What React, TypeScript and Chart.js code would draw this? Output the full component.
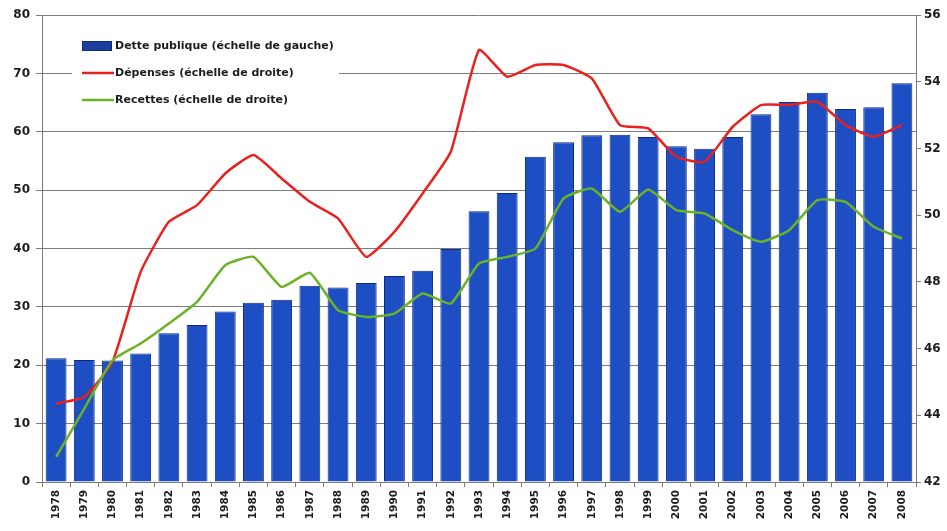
import React, { useEffect, useRef } from "react";
import { Chart, registerables } from "chart.js";

Chart.register(...registerables);

const years = [
  "1978", "1979", "1980", "1981", "1982", "1983", "1984", "1985", "1986", "1987",
  "1988", "1989", "1990", "1991", "1992", "1993", "1994", "1995", "1996", "1997",
  "1998", "1999", "2000", "2001", "2002", "2003", "2004", "2005", "2006", "2007", "2008",
];

const detteValues = [
  21.2, 20.9, 20.8, 22.0, 25.5, 26.9, 29.2, 30.7, 31.2, 33.6,
  33.3, 34.1, 35.3, 36.2, 39.9, 46.4, 49.5, 55.7, 58.2, 59.4,
  59.5, 59.1, 57.5, 57.1, 59.1, 63.0, 65.1, 66.7, 63.9, 64.2, 68.3,
];

const depensesValues = [
  44.35, 44.55, 45.6, 48.3, 49.8, 50.3, 51.25, 51.8, 51.1, 50.4,
  49.9, 48.75, 49.5, 50.65, 51.9, 54.95, 54.15, 54.5, 54.5, 54.1,
  52.7, 52.6, 51.75, 51.6, 52.65, 53.3, 53.3, 53.4, 52.7, 52.35, 52.7,
];

const recettesValues = [
  42.75, 44.2, 45.65, 46.15, 46.75, 47.4, 48.5, 48.75, 47.85, 48.27,
  47.15, 46.95, 47.05, 47.65, 47.35, 48.55, 48.75, 49.0, 50.5, 50.8,
  50.1, 50.77, 50.15, 50.05, 49.55, 49.2, 49.55, 50.45, 50.4, 49.65, 49.3,
];

const seriesLabels = [
  "Dette publique (échelle de gauche)",
  "Dépenses (échelle de droite)",
  "Recettes (échelle de droite)",
];

const BAR_FILL = "#1d4ec4";
const BAR_BORDER = "#0c2a80";
const RED = "#e8211f";
const GREEN = "#6cb226";
const GRID = "#7c7c7c";
const TEXT = "#1c1c1c";

const legendPlugin = {
  id: "insideLegend",
  afterDraw(chart: any) {
    const ctx = chart.ctx as CanvasRenderingContext2D;
    const ds = chart.data.datasets;
    ctx.save();
    ctx.fillStyle = "#ffffff";
    ctx.fillRect(72, 27, 267, 90);
    ctx.font = "bold 11px 'DejaVu Sans', sans-serif";
    ctx.textBaseline = "middle";
    const rows = [46, 73, 100];
    ds.forEach((d: any, i: number) => {
      const y = rows[i];
      if (d.type === "bar") {
        ctx.fillStyle = "#1c3f9c";
        ctx.fillRect(82, y - 5, 30, 10);
        ctx.strokeStyle = BAR_BORDER;
        ctx.lineWidth = 1;
        ctx.strokeRect(82.5, y - 4.5, 29, 9);
      } else {
        ctx.strokeStyle = d.borderColor;
        ctx.lineWidth = 2.5;
        ctx.beginPath();
        ctx.moveTo(82, y);
        ctx.lineTo(114, y);
        ctx.stroke();
      }
      ctx.fillStyle = TEXT;
      ctx.fillText(d.label, 115, y + 0.5);
    });
    ctx.restore();
  },
};

export default function App() {
  const canvasRef = useRef<HTMLCanvasElement | null>(null);

  useEffect(() => {
    document.body.style.margin = "0";
    const canvas = canvasRef.current;
    if (!canvas) return;
    const chart = new Chart(canvas, {
      type: "bar",
      data: {
        labels: years,
        datasets: [
          {
            type: "bar",
            label: seriesLabels[0],
            data: detteValues,
            backgroundColor: BAR_FILL,
            borderColor: BAR_BORDER,
            borderWidth: 1,
            yAxisID: "y",
            barPercentage: 0.74,
            categoryPercentage: 1,
            order: 2,
          } as any,
          {
            type: "line",
            label: seriesLabels[1],
            data: depensesValues,
            borderColor: RED,
            backgroundColor: RED,
            borderWidth: 2.5,
            pointRadius: 0,
            tension: 0.15,
            yAxisID: "y1",
            order: 1,
          } as any,
          {
            type: "line",
            label: seriesLabels[2],
            data: recettesValues,
            borderColor: GREEN,
            backgroundColor: GREEN,
            borderWidth: 2.5,
            pointRadius: 0,
            tension: 0.15,
            yAxisID: "y1",
            order: 0,
          } as any,
        ],
      },
      options: {
        animation: false,
        responsive: true,
        maintainAspectRatio: false,
        layout: { padding: { top: 15, right: 0, bottom: 0, left: 0 } },
        plugins: {
          legend: { display: false },
          tooltip: { enabled: false },
        },
        scales: {
          x: {
            grid: {
              display: true,
              drawOnChartArea: false,
              drawTicks: true,
              tickLength: 5,
              color: GRID,
              offset: true,
            },
            border: { color: GRID, width: 1 },
            ticks: {
              minRotation: 90,
              maxRotation: 90,
              autoSkip: false,
              color: TEXT,
              padding: 3,
              font: { family: "'DejaVu Sans'", weight: "bold", size: 10.5 },
            },
            afterFit(scale: any) {
              scale.height = 49;
            },
          },
          y: {
            position: "left",
            min: 0,
            max: 80,
            ticks: {
              stepSize: 10,
              color: TEXT,
              padding: 6,
              font: { family: "'DejaVu Sans'", weight: "bold", size: 12 },
            },
            grid: { color: GRID, lineWidth: 1, tickLength: 6 },
            border: { color: GRID, width: 1 },
            afterFit(scale: any) {
              scale.width = 42;
            },
          },
          y1: {
            position: "right",
            min: 42,
            max: 56,
            ticks: {
              stepSize: 2,
              color: TEXT,
              padding: 3,
              font: { family: "'DejaVu Sans'", weight: "bold", size: 12 },
            },
            grid: { drawOnChartArea: false, color: GRID, tickLength: 5 },
            border: { color: GRID, width: 1 },
            afterFit(scale: any) {
              scale.width = 31;
            },
          },
        },
      },
      plugins: [legendPlugin],
    });
    return () => chart.destroy();
  }, []);

  return (
    <div style={{ width: 947, height: 531, background: "#ffffff" }}>
      <canvas ref={canvasRef} />
    </div>
  );
}
